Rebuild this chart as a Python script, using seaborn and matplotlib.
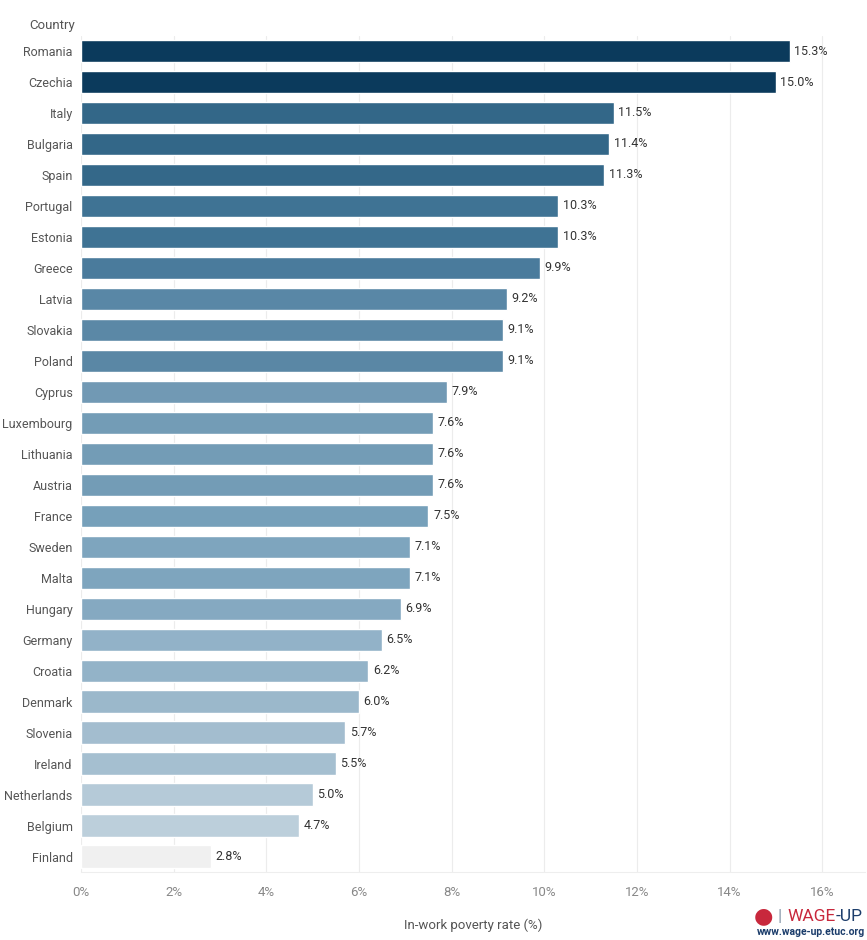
"""In-work poverty rate by country, horizontal bar chart."""
import numpy as np
import pandas as pd
import seaborn as sns
import matplotlib.pyplot as plt

countries = ["Romania", "Czechia", "Italy", "Bulgaria", "Spain", "Portugal", "Estonia",
             "Greece", "Latvia", "Slovakia", "Poland", "Cyprus", "Luxembourg", "Lithuania",
             "Austria", "France", "Sweden", "Malta", "Hungary", "Germany", "Croatia",
             "Denmark", "Slovenia", "Ireland", "Netherlands", "Belgium", "Finland"]
rates = [15.3, 15.0, 11.5, 11.4, 11.3, 10.3, 10.3, 9.9, 9.2, 9.1, 9.1, 7.9, 7.6, 7.6,
         7.6, 7.5, 7.1, 7.1, 6.9, 6.5, 6.2, 6.0, 5.7, 5.5, 5.0, 4.7, 2.8]
bar_colors = ["#0b3a5c", "#0b3a5c", "#336788", "#336788", "#346889", "#3f7394", "#3f7394",
              "#4a7b9c", "#5987a6", "#5b88a6", "#5a87a5", "#7199b4", "#739cb6", "#739cb6",
              "#739cb6", "#76a0ba", "#7ea5be", "#7ea5be", "#85a9c1", "#92b2c8", "#93b3c8",
              "#9bb8cb", "#a3bdcf", "#a5bfd0", "#b5cad8", "#bccfdb", "#f0f0f0"]
x_ticks = [0, 2, 4, 6, 8, 10, 12, 14, 16]

df = pd.DataFrame({"Country": countries, "Rate": rates})

sns.set_style("white")
plt.rcParams["font.family"] = ["Roboto", "DejaVu Sans"]

fig = plt.figure(figsize=(8.67, 9.4), dpi=100)
ax = fig.add_axes([0.0934, 0.0723, 0.9046, 0.8899])

sns.barplot(data=df, x="Rate", y="Country", hue="Country", palette=bar_colors,
            legend=False, width=0.72, ax=ax, saturation=1)

# value labels at bar ends
for i, v in enumerate(rates):
    ax.text(v + 0.1, i, f"{v:.1f}%", va="center", ha="left", fontsize=9, color="#333333")

ax.set_xlim(0, 16.93)
ax.set_xticks(x_ticks)
ax.set_xticklabels([f"{t}%" for t in x_ticks], color="#888888", fontsize=9.5)
ax.tick_params(axis="y", labelsize=9, labelcolor="#555555", length=0, pad=6)
ax.tick_params(axis="x", length=0, pad=10)
ax.grid(axis="x", color="#ececec", linewidth=0.8)
ax.set_axisbelow(True)
for s in ["top", "right", "left"]:
    ax.spines[s].set_visible(False)
ax.spines["bottom"].set_color("#eeeeee")
ax.set_ylabel("")
ax.set_xlabel("In-work poverty rate (%)", fontsize=9.5, color="#555555", labelpad=14)

fig.text(0.0865, 0.973, "Country", ha="right", va="center", fontsize=9.5, color="#555555")

# logo, chained right to left
up = fig.text(0.995, 0.0255, "-UP", ha="right", va="center", fontsize=12.5,
              color="#1c3d6b")
wage = plt.annotate("WAGE", xy=(0, 0.5), xycoords=up, ha="right", va="center",
                    fontsize=12.5, color="#c8283c", annotation_clip=False)
sep = plt.annotate("|", xy=(0, 0.5), xycoords=wage, xytext=(-4, 0),
                   textcoords="offset points", ha="right", va="center",
                   fontsize=12.5, color="#8899aa", annotation_clip=False)
plt.annotate("\u25cf", xy=(0, 0.5), xycoords=sep, xytext=(-3, 0),
             textcoords="offset points", ha="right", va="center",
             fontsize=16, color="#c8283c", family=["DejaVu Sans"], annotation_clip=False)
fig.text(0.998, 0.008, "www.wage-up.etuc.org", ha="right", va="center", fontsize=7.5,
         color="#1c3d6b", fontweight="bold")

fig.savefig("out.png", dpi=100)
